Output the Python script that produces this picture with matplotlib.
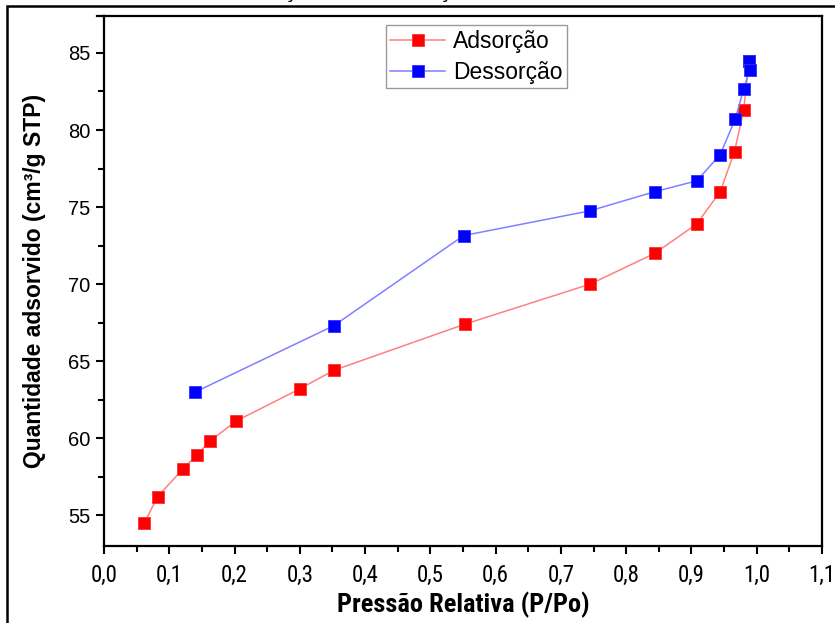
import matplotlib
matplotlib.use("Agg")
import matplotlib.pyplot as plt
from matplotlib.patches import Rectangle
from matplotlib.lines import Line2D
from matplotlib.ticker import FixedLocator, MultipleLocator

# Isotherm data: relative pressure vs adsorbed quantity
p_ads = [0.062, 0.082, 0.121, 0.142, 0.162, 0.202, 0.300, 0.352, 0.553,
         0.745, 0.844, 0.908, 0.944, 0.966, 0.980, 0.988]
q_ads = [54.5, 56.2, 58.0, 58.9, 59.8, 61.1, 63.2, 64.4, 67.4,
         70.0, 72.0, 73.9, 76.0, 78.6, 81.3, 84.5]

p_des = [0.988, 0.989, 0.980, 0.967, 0.944, 0.908, 0.844, 0.744, 0.551,
         0.352, 0.140]
q_des = [84.45, 83.9, 82.65, 80.7, 78.4, 76.7, 76.0, 74.75, 73.15,
         67.3, 63.0]

x_ticks = [0.0, 0.1, 0.2, 0.3, 0.4, 0.5, 0.6, 0.7, 0.8, 0.9, 1.0, 1.1]
x_tick_labels = ["0,0", "0,1", "0,2", "0,3", "0,4", "0,5", "0,6", "0,7",
                 "0,8", "0,9", "1,0", "1,1"]
y_ticks = [55, 60, 65, 70, 75, 80, 85]

NARROW = ["Liberation Sans Narrow", "Roboto Condensed", "DejaVu Sans"]

W, H = 835, 623
fig = plt.figure(figsize=(W / 100, H / 100), dpi=100)
fig.patch.set_facecolor("white")

# axes placement in pixels
left, right, top, bottom = 104, 822, 16, 546
ax = fig.add_axes([left / W, 1 - bottom / H, (right - left) / W, (bottom - top) / H])

ax.plot(p_ads, q_ads, color="#ff8080", lw=1.1, marker="s", ms=9.2,
        mfc="#ff0000", mec="#ff3030", mew=0.6, label="Adsorção", zorder=3)
ax.plot(p_des, q_des, color="#8080ff", lw=1.1, marker="s", ms=9.2,
        mfc="#0000ff", mec="#3030ff", mew=0.6, label="Dessorção", zorder=4)

ax.set_xlim(0, 1.1)
ax.set_ylim(53.0, 87.4)

ax.xaxis.set_major_locator(FixedLocator(x_ticks))
ax.set_xticklabels(x_tick_labels, family=NARROW, stretch="condensed",
                   fontsize=16.5)
ax.xaxis.set_minor_locator(MultipleLocator(0.05))
ax.yaxis.set_major_locator(FixedLocator(y_ticks))
ax.yaxis.set_minor_locator(MultipleLocator(2.5))
for lab in ax.get_yticklabels():
    lab.set_family("Liberation Sans")
    lab.set_fontsize(14.5)

ax.tick_params(which="major", direction="out", length=6, width=1.5,
               top=False, right=False, pad=4)
ax.tick_params(which="minor", direction="out", length=4, width=1.5,
               top=False, right=False)
ax.tick_params(axis="x", which="major", pad=7)

for s in ax.spines.values():
    s.set_linewidth(1.6)
    s.set_color("black")

ax.set_xlabel("Pressão Relativa (P/Po)", family=NARROW, stretch="condensed",
              fontweight="bold", fontsize=19, labelpad=3)
ax.set_ylabel("Quantidade adsorvido (cm³/g STP)", family="Liberation Sans",
              fontweight="bold", fontsize=16.5, labelpad=16)

leg = ax.legend(loc="upper center", bbox_to_anchor=(0.519, 0.983),
                prop={"family": "Liberation Sans", "size": 16.5},
                frameon=True, fancybox=False, edgecolor="#808080",
                handlelength=2.4, handletextpad=0.35, borderpad=0.2,
                labelspacing=0.35, borderaxespad=0)
leg.get_frame().set_linewidth(1.0)

# top spine stub extending left of the y axis
fig.add_artist(Line2D([97 / W, left / W], [1 - top / H, 1 - top / H],
                      color="black", lw=1.6, transform=fig.transFigure))

# outer frame around the figure
fig.add_artist(Rectangle((7 / W, -0.1), 1.2, 1 - 5.5 / H + 0.1,
                         transform=fig.transFigure, fill=False,
                         edgecolor="black", lw=1.8))

# title, sitting above the frame
fig.text(97 / W, 1 + 1.5 / H, "Isotermas de Adsorção e de Dessorção",
         family="Liberation Sans", fontweight="bold", fontsize=14.5,
         ha="left", va="baseline")

fig.savefig("out.png", dpi=100, facecolor="white")
